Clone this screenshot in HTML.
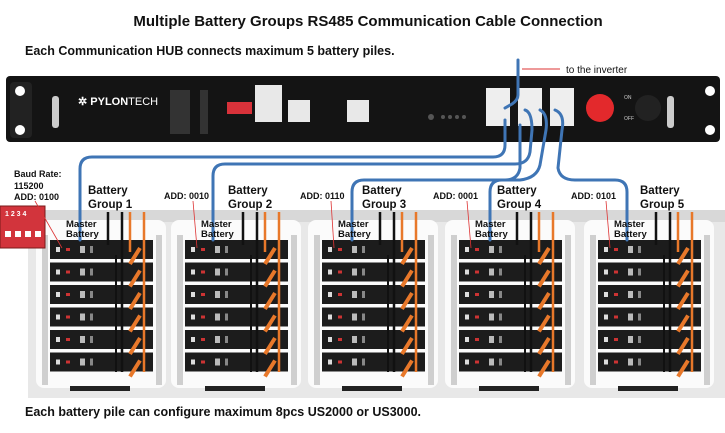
<!DOCTYPE html>
<html><head><meta charset="utf-8"><style>
body{margin:0;width:725px;height:433px;background:#fff;overflow:hidden;font-family:"Liberation Sans",sans-serif;}
svg{position:absolute;left:0;top:0}
</style></head><body>
<svg id="s" width="725" height="433" viewBox="0 0 725 433">
<text x="368" y="26" text-anchor="middle" font-size="15" font-weight="bold" fill="#111">Multiple Battery Groups RS485 Communication Cable Connection</text>
<text x="25" y="55" font-size="12.5" font-weight="bold" fill="#111">Each Communication HUB connects maximum 5 battery piles.</text>
<text x="25" y="416" font-size="12.5" font-weight="bold" fill="#111">Each battery pile can configure maximum 8pcs US2000 or US3000.</text>
<rect x="28" y="210" width="697" height="188" fill="#e8e8e8"/>
<rect x="28" y="210" width="697" height="12" fill="#d8d8d8"/>
<g id="piles"></g>
<rect x="6" y="76" width="714" height="66" rx="4" fill="#141414"/>
<rect x="10" y="82" width="22" height="56" rx="4" fill="#222"/>
<circle cx="20" cy="91" r="5" fill="#fff"/><circle cx="20" cy="130" r="5" fill="#fff"/>
<circle cx="710" cy="91" r="5" fill="#fff"/><circle cx="710" cy="130" r="5" fill="#fff"/>
<rect x="52" y="96" width="7" height="32" rx="3" fill="#ccc"/>
<rect x="667" y="96" width="7" height="32" rx="3" fill="#ccc"/>
<text x="78" y="105" font-size="11" font-weight="bold" fill="#fff">✲ PYLON<tspan font-weight="normal">TECH</tspan></text>
<rect x="170" y="90" width="20" height="44" fill="#333"/>
<rect x="200" y="90" width="8" height="44" fill="#333"/>
<rect x="227" y="102" width="25" height="12" fill="#d8323a"/>
<rect x="255" y="85" width="27" height="37" fill="#e8e8e8"/>
<rect x="288" y="100" width="22" height="22" fill="#e8e8e8"/>
<rect x="347" y="100" width="22" height="22" fill="#e8e8e8"/>
<g fill="#555"><circle cx="431" cy="117" r="3"/><circle cx="443" cy="117" r="2"/><circle cx="450" cy="117" r="2"/><circle cx="457" cy="117" r="2"/><circle cx="464" cy="117" r="2"/></g>
<rect x="486" y="88" width="24" height="38" fill="#eee"/>
<rect x="518" y="88" width="24" height="38" fill="#eee"/>
<rect x="550" y="88" width="24" height="38" fill="#eee"/>
<circle cx="600" cy="108" r="14" fill="#e3292c"/>
<circle cx="648" cy="108" r="13" fill="#222"/>
<text x="624" y="99" font-size="5" fill="#ccc">ON</text><text x="624" y="120" font-size="5" fill="#ccc">OFF</text>
<line x1="522" y1="69" x2="560" y2="69" stroke="#d33" stroke-width="1"/>
<text x="566" y="73" font-size="10" fill="#111">to the inverter</text>
<g fill="none" stroke="#3f75b5" stroke-width="3" stroke-linecap="round">
<path d="M518 60 L518 95 Q518 100 512 104 L505 108"/>
<path d="M505 120 L505 145 Q505 157 493 157 L92 157 Q80 157 80 169 L80 240"/>
<path d="M525 110 Q532 112 532 130 L530 152 Q528 164 515 164 L225 164 Q213 164 213 176 L213 240"/>
<path d="M520 125 L520 168 Q518 180 505 180 L364 180 Q352 180 352 192 L352 240"/>
<path d="M540 110 Q548 114 546 130 L540 165 Q537 178 520 180 L502 180 Q490 180 490 192 L490 240"/>
<path d="M555 110 Q565 114 562 130 L558 168 Q560 180 575 180 L615 180 Q627 180 627 192 L627 240"/>
</g>
<rect x="0" y="206" width="45" height="42" fill="#d2343c" stroke="#7a1a1a"/>
<text x="5" y="216" font-size="7" font-weight="bold" fill="#fff">1 2 3 4</text>
<g fill="#fff"><rect x="5" y="231" width="6" height="6"/><rect x="15" y="231" width="6" height="6"/><rect x="25" y="231" width="6" height="6"/><rect x="35" y="231" width="6" height="6"/></g>
<g font-size="9" font-weight="bold" fill="#111">
<text x="14" y="177">Baud Rate:</text><text x="14" y="189">115200</text><text x="14" y="200">ADD: 0100</text>
<text x="164" y="199">ADD: 0010</text><text x="300" y="199">ADD: 0110</text><text x="433" y="199">ADD: 0001</text><text x="571" y="199">ADD: 0101</text>
</g>
<g id="lbl" font-size="11.5" font-weight="bold" fill="#111"></g>
</svg>
<script>
var NS="http://www.w3.org/2000/svg";
function el(p,t,a){var e=document.createElementNS(NS,t);for(var k in a)e.setAttribute(k,a[k]);p.appendChild(e);return e;}
var g=document.getElementById('piles'),L=document.getElementById('lbl');
var xs=[50,185,322,459,598];
var lx=[88,228,362,497,640];
var ax=[35,193,331,467,606];
xs.forEach(function(x,i){
 el(g,'rect',{x:x-14,y:220,width:130,height:168,rx:8,fill:'#fbfbfb'});
 el(g,'rect',{x:x-8,y:235,width:6,height:150,fill:'#cfcfcf'});
 el(g,'rect',{x:x+106,y:235,width:6,height:150,fill:'#cfcfcf'});
 el(g,'rect',{x:x+20,y:386,width:60,height:5,fill:'#222'});
 for(var r=0;r<6;r++){var y=240+r*22.5;
  el(g,'rect',{x:x,y:y,width:103,height:19,fill:'#1c1c1c'});
  el(g,'rect',{x:x+6,y:y+7,width:4,height:5,fill:'#ddd'});
  el(g,'rect',{x:x+16,y:y+8,width:4,height:3,fill:'#c33'});
  el(g,'rect',{x:x+30,y:y+6,width:5,height:7,fill:'#bbb'});
  el(g,'rect',{x:x+40,y:y+6,width:3,height:7,fill:'#888'});
 }
 el(g,'line',{x1:x+58,y1:212,x2:x+58,y2:245,stroke:'#111','stroke-width':2.5});
 el(g,'line',{x1:x+72,y1:212,x2:x+72,y2:372,stroke:'#111','stroke-width':2.5});
 el(g,'line',{x1:x+66,y1:255,x2:x+66,y2:372,stroke:'#111','stroke-width':2});
 el(g,'line',{x1:x+80,y1:212,x2:x+80,y2:252,stroke:'#e8782a','stroke-width':2.5});
 el(g,'line',{x1:x+94,y1:212,x2:x+94,y2:372,stroke:'#e8782a','stroke-width':2.5});
 for(var r=0;r<6;r++){var y=248+r*22.5;
  el(g,'path',{d:'M'+(x+90)+' '+y+' L'+(x+80)+' '+(y+16),stroke:'#e8782a','stroke-width':4,fill:'none'});
 }
 var t=el(L,'text',{x:lx[i],y:194});t.textContent='Battery';
 t=el(L,'text',{x:lx[i],y:208});t.textContent='Group '+(i+1);
 t=el(L,'text',{x:x+16,y:227,'font-size':9.5});t.textContent='Master';
 t=el(L,'text',{x:x+16,y:237,'font-size':9.5});t.textContent='Battery';
 el(L,'line',{x1:ax[i],y1:201,x2:x+12,y2:248,stroke:'#d33','stroke-width':0.8});
});
</script>
</body></html>
